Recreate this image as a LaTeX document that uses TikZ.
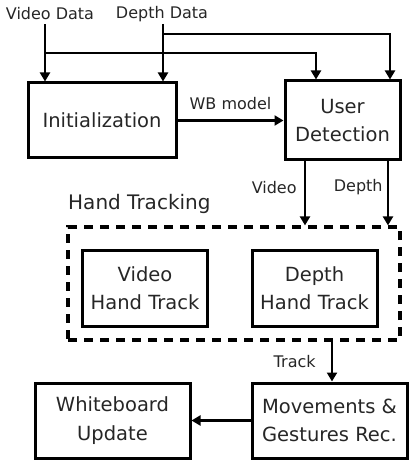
\documentclass[tikz,border=0pt]{standalone}
\usepackage{fontspec}
\setmainfont{DejaVu Sans}
\usetikzlibrary{arrows.meta}
\begin{document}
\begin{tikzpicture}[x=1pt,y=-1pt,
  box/.style={draw,line width=3pt,align=center,inner sep=0pt,font=\fontsize{19.5}{28.5}\selectfont,text=black!85},
  lbl/.style={inner sep=0pt,font=\fontsize{16}{18}\selectfont,text=black!85},
  arr/.style={line width=2.8pt,-{Triangle[length=9pt,width=10pt]}},
  ln/.style={line width=2.8pt}]
\useasboundingbox (0,0) rectangle (409,462);
% input labels
\node[lbl] (vd) at (50,14) {Video Data};
\node[lbl] (dd) at (162,14) {Depth Data};
% boxes
\node[box,minimum width=148pt,minimum height=75pt] (init) at (102,120.5) {Initialization};
\node[box,minimum width=115pt,minimum height=79pt] (ud) at (342.5,120.5) {User\\Detection};
\node[draw,line width=3.2pt,dash pattern=on 9pt off 7pt,minimum width=332pt,minimum height=113pt,inner sep=0pt] (ht) at (234,283.5) {};
\node[inner sep=0pt,anchor=west,font=\fontsize{20}{24}\selectfont,text=black!85] (htl) at (68,204) {Hand Tracking};
\node[box,minimum width=125pt,minimum height=76pt] (vht) at (145,288) {Video\\Hand Track};
\node[box,minimum width=125pt,minimum height=76pt] (dht) at (314.5,288) {Depth\\Hand Track};
\node[box,minimum width=155pt,minimum height=75pt] (wb) at (112.5,420.5) {Whiteboard\\Update};
\node[box,minimum width=155pt,minimum height=75pt] (mg) at (329.5,420.5) {Movements \&\\Gestures Rec.};
% inputs
\coordinate (vtop) at ([xshift=-5pt,yshift=-4pt]vd.south);
\coordinate (dtop) at ([xshift=1pt,yshift=-2pt]dd.south);
\coordinate (vj) at (45,53);
\coordinate (dj) at (163,34);
\draw[arr] (vtop) -- (vtop |- init.north);
\draw[arr] (dtop) -- (dtop |- init.north);
\draw[arr] (vj) -| ([xshift=-26.5pt]ud.north);
\draw[arr] (dj) -| ([xshift=47.5pt]ud.north);
% WB model
\draw[arr] (init.east) -- node[lbl,above=9pt] {WB model} (init.east -| ud.west);
% video / depth to hand tracking
\draw[arr] ([xshift=-37.5pt]ud.south) -- node[lbl,left=7pt,pos=0.4] {Video} ([xshift=-37.5pt]ud.south |- ht.north);
\draw[arr] ([xshift=45.5pt]ud.south) -- node[lbl,left=4pt,pos=0.4] {Depth} ([xshift=45.5pt]ud.south |- ht.north);
% track
\draw[arr] ([xshift=98pt]ht.south) -- node[lbl,left=15pt,pos=0.5] {Track} ([xshift=98pt]ht.south |- mg.north);
% to whiteboard
\draw[arr] (mg.west) -- (wb.east);
\end{tikzpicture}
\end{document}
